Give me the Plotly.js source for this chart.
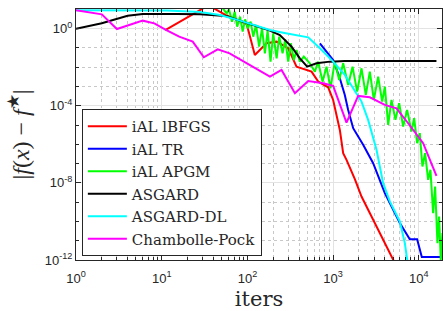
<!DOCTYPE html>
<html>
<head>
<meta charset="utf-8">
<script src="https://cdn.plot.ly/plotly-3.0.1.min.js"></script>
<style>html,body{margin:0;padding:0;background:#fff;}#chart{width:443px;height:311px;}</style>
</head>
<body>
<div id="chart"></div>
<script>
// ---- data ----
const seriesNames = ["iAL lBFGS", "iAL TR", "iAL APGM", "ASGARD", "ASGARD-DL", "Chambolle-Pock"];

const redIter = [11, 22, 35, 56, 98, 122, 167, 219, 299, 374, 560, 669, 875, 1000, 1197, 1309, 1432, 1791, 2143, 2930, 3830, 4920, 5480];
const redF = [0.85, 5.1, 16.2, 5.1, 1.75, 0.0432, 0.174, 0.212, 0.0957, 0.0107, 0.0059, 0.00179, 9.1e-4, 2.01e-4, 5.6e-6, 3.5e-7, 1.57e-7, 1.56e-8, 1.97e-9, 1.22e-10, 1.12e-11, 1e-12, 4.7e-13];

const blueIter = [700, 1000, 1197, 1368, 1497, 1713, 2239, 2930, 4009, 5998, 7834, 9550, 10820, 18360];
const blueF = [0.174, 0.0238, 0.00267, 3.66e-4, 6.1e-5, 6.9e-6, 9.4e-7, 1.05e-7, 2.94e-9, 8.2e-11, 1.2e-11, 1.2e-11, 1.42e-12, 1.42e-12];

const greenIter = [50, 57, 61, 66, 71, 76, 82, 88, 94, 101, 109, 117, 126, 137, 148, 160, 172, 186, 200, 219, 235, 257, 276, 299, 321, 348, 374, 409, 455, 535, 612, 669, 752, 837, 931, 1047, 1175, 1310, 1497, 1683, 1906, 2143, 2405, 2680, 2985, 3350, 3730, 4010, 4385, 4795, 5335, 5890, 6560, 7300, 8200, 8810, 9550, 10250, 11000, 11830, 12830, 13650, 14670, 15480, 16480, 17220, 18030, 18840];
const greenF = [13.8, 6.2, 10, 2.31, 7.6, 1.27, 4.19, 0.70, 3.05, 1.04, 2.31, 0.385, 1.55, 0.117, 1.04, 0.0527, 0.787, 0.0195, 0.573, 0.029, 0.385, 0.0527, 0.28, 0.0195, 0.174, 0.0238, 0.0785, 0.0195, 0.0354, 0.016, 0.0059, 0.0195, 0.00179, 0.0107, 8.1e-4, 0.0195, 0.00219, 0.016, 0.0012, 0.0107, 5.4e-4, 0.0088, 3.66e-4, 0.0059, 2.01e-4, 0.00326, 1.65e-4, 9.9e-4, 1.02e-5, 2.01e-4, 1.85e-5, 1.35e-4, 8.4e-6, 6.1e-5, 4.6e-6, 2.26e-5, 1.15e-6, 3.8e-6, 7.1e-8, 3.5e-7, 1.44e-8, 4.75e-8, 2.7e-10, 6.5e-9, 7.5e-12, 1.8e-10, 1.0e-12, 2.5e-11];

const blackIter = [1, 2, 4, 6, 15, 28, 56, 107, 183, 239, 327, 409, 498, 640, 915, 1368, 16040];
const blackF = [1.0, 1.89, 4.72, 5.75, 5.75, 5.53, 4.53, 1.75, 0.787, 0.47, 0.117, 0.029, 0.0107, 0.016, 0.0195, 0.0211, 0.0211];

const cyanIter = [1, 11.4, 28, 48, 82, 140, 183, 261, 409, 512, 700, 1000, 1368, 1713, 2143, 2560, 2930, 3206, 3830, 4583, 5998, 6855, 7295, 7565];
const cyanF = [9.0, 8.8, 7.4, 5.1, 2.6, 1.27, 0.853, 0.621, 0.434, 0.356, 0.0957, 0.0195, 0.00397, 8.1e-4, 1.65e-4, 1.85e-5, 2.54e-6, 5.2e-7, 9.7e-9, 1.09e-9, 1.0e-10, 7.6e-12, 1.12e-12, 4.7e-13];

const magIter = [1, 2, 3, 6, 8.2, 11.2, 16, 23, 31, 45, 62, 183, 250, 358, 512, 765, 1000, 1432, 1959, 2680, 4009, 5480, 7500, 11220, 16040];
const magF = [9.0, 5.53, 0.96, 2.6, 1.89, 0.853, 0.385, 0.212, 0.0327, 0.085, 0.0527, 0.00326, 0.0072, 4.46e-4, 0.00194, 0.00147, 0.00107, 1.35e-5, 3.24e-4, 2.77e-4, 1.11e-4, 7.4e-5, 1.24e-5, 1.15e-6, 2.32e-8];

const xTickVals = [1, 10, 100, 1000, 10000];
const xTickText = ["10<sup>0</sup>", "10<sup>1</sup>", "10<sup>2</sup>", "10<sup>3</sup>", "10<sup>4</sup>"];
const yTickVals = [1e-12, 1e-8, 1e-4, 1];
const yTickText = ["10<sup>-12</sup>", "10<sup>-8</sup>", "10<sup>-4</sup>", "10<sup>0</sup>"];

// ---- traces ----
const colors = ["#ff0000", "#0000ff", "#00ff00", "#000000", "#00ffff", "#ff00ff"];
const xs = [redIter, blueIter, greenIter, blackIter, cyanIter, magIter];
const ys = [redF, blueF, greenF, blackF, cyanF, magF];
const traces = seriesNames.map((n, i) => ({
  type: "scatter", mode: "lines", name: n, x: xs[i], y: ys[i],
  line: {color: colors[i], width: 2}, cliponaxis: true
}));

const axisCommon = {
  type: "log", showline: true, linecolor: "#262626", linewidth: 1, mirror: "ticks",
  ticks: "inside", ticklen: 5, tickcolor: "#262626",
  showgrid: true, gridcolor: "#e3e3e3", gridwidth: 1, zeroline: false,
  tickfont: {family: "Liberation Sans, Arial, sans-serif", size: 13, color: "#262626"},
  tickmode: "array"
};

const layout = {
  width: 443, height: 311,
  margin: {l: 76, r: 1, t: 9, b: 51},
  paper_bgcolor: "#ffffff", plot_bgcolor: "#ffffff",
  showlegend: true,
  xaxis: Object.assign({}, axisCommon, {
    range: [0, 4.27], tickvals: xTickVals, ticktext: xTickText,
    ticklabelstandoff: 6,
    minor: {dtick: "D1", showgrid: true, gridcolor: "#c8c8c8", griddash: "dot", ticks: "inside", ticklen: 3, tickcolor: "#262626"},
    title: {text: "iters", font: {family: "DejaVu Serif, serif", size: 21, color: "#262626"}, standoff: 6}
  }),
  yaxis: Object.assign({}, axisCommon, {
    range: [-12, 1.02], tickvals: yTickVals, ticktext: yTickText,
    minor: {dtick: 1, showgrid: true, gridcolor: "#c8c8c8", griddash: "dot", ticks: "inside", ticklen: 3, tickcolor: "#262626"},
    title: {text: "|<i>f</i>(<i>x</i>) \u2212 <i>f</i><sup>\u2605</sup>|", font: {family: "Liberation Serif, serif", size: 24, color: "#262626"}, standoff: 8}
  }),
  legend: {
    x: 0.016, y: 0.016, xanchor: "left", yanchor: "bottom",
    bgcolor: "#ffffff", bordercolor: "#262626", borderwidth: 1,
    itemwidth: 39,
    font: {family: "DejaVu Serif, serif", size: 15, color: "#262626"}
  }
};

Plotly.newPlot("chart", traces, layout, {staticPlot: true, displayModeBar: false});
</script>
</body>
</html>
